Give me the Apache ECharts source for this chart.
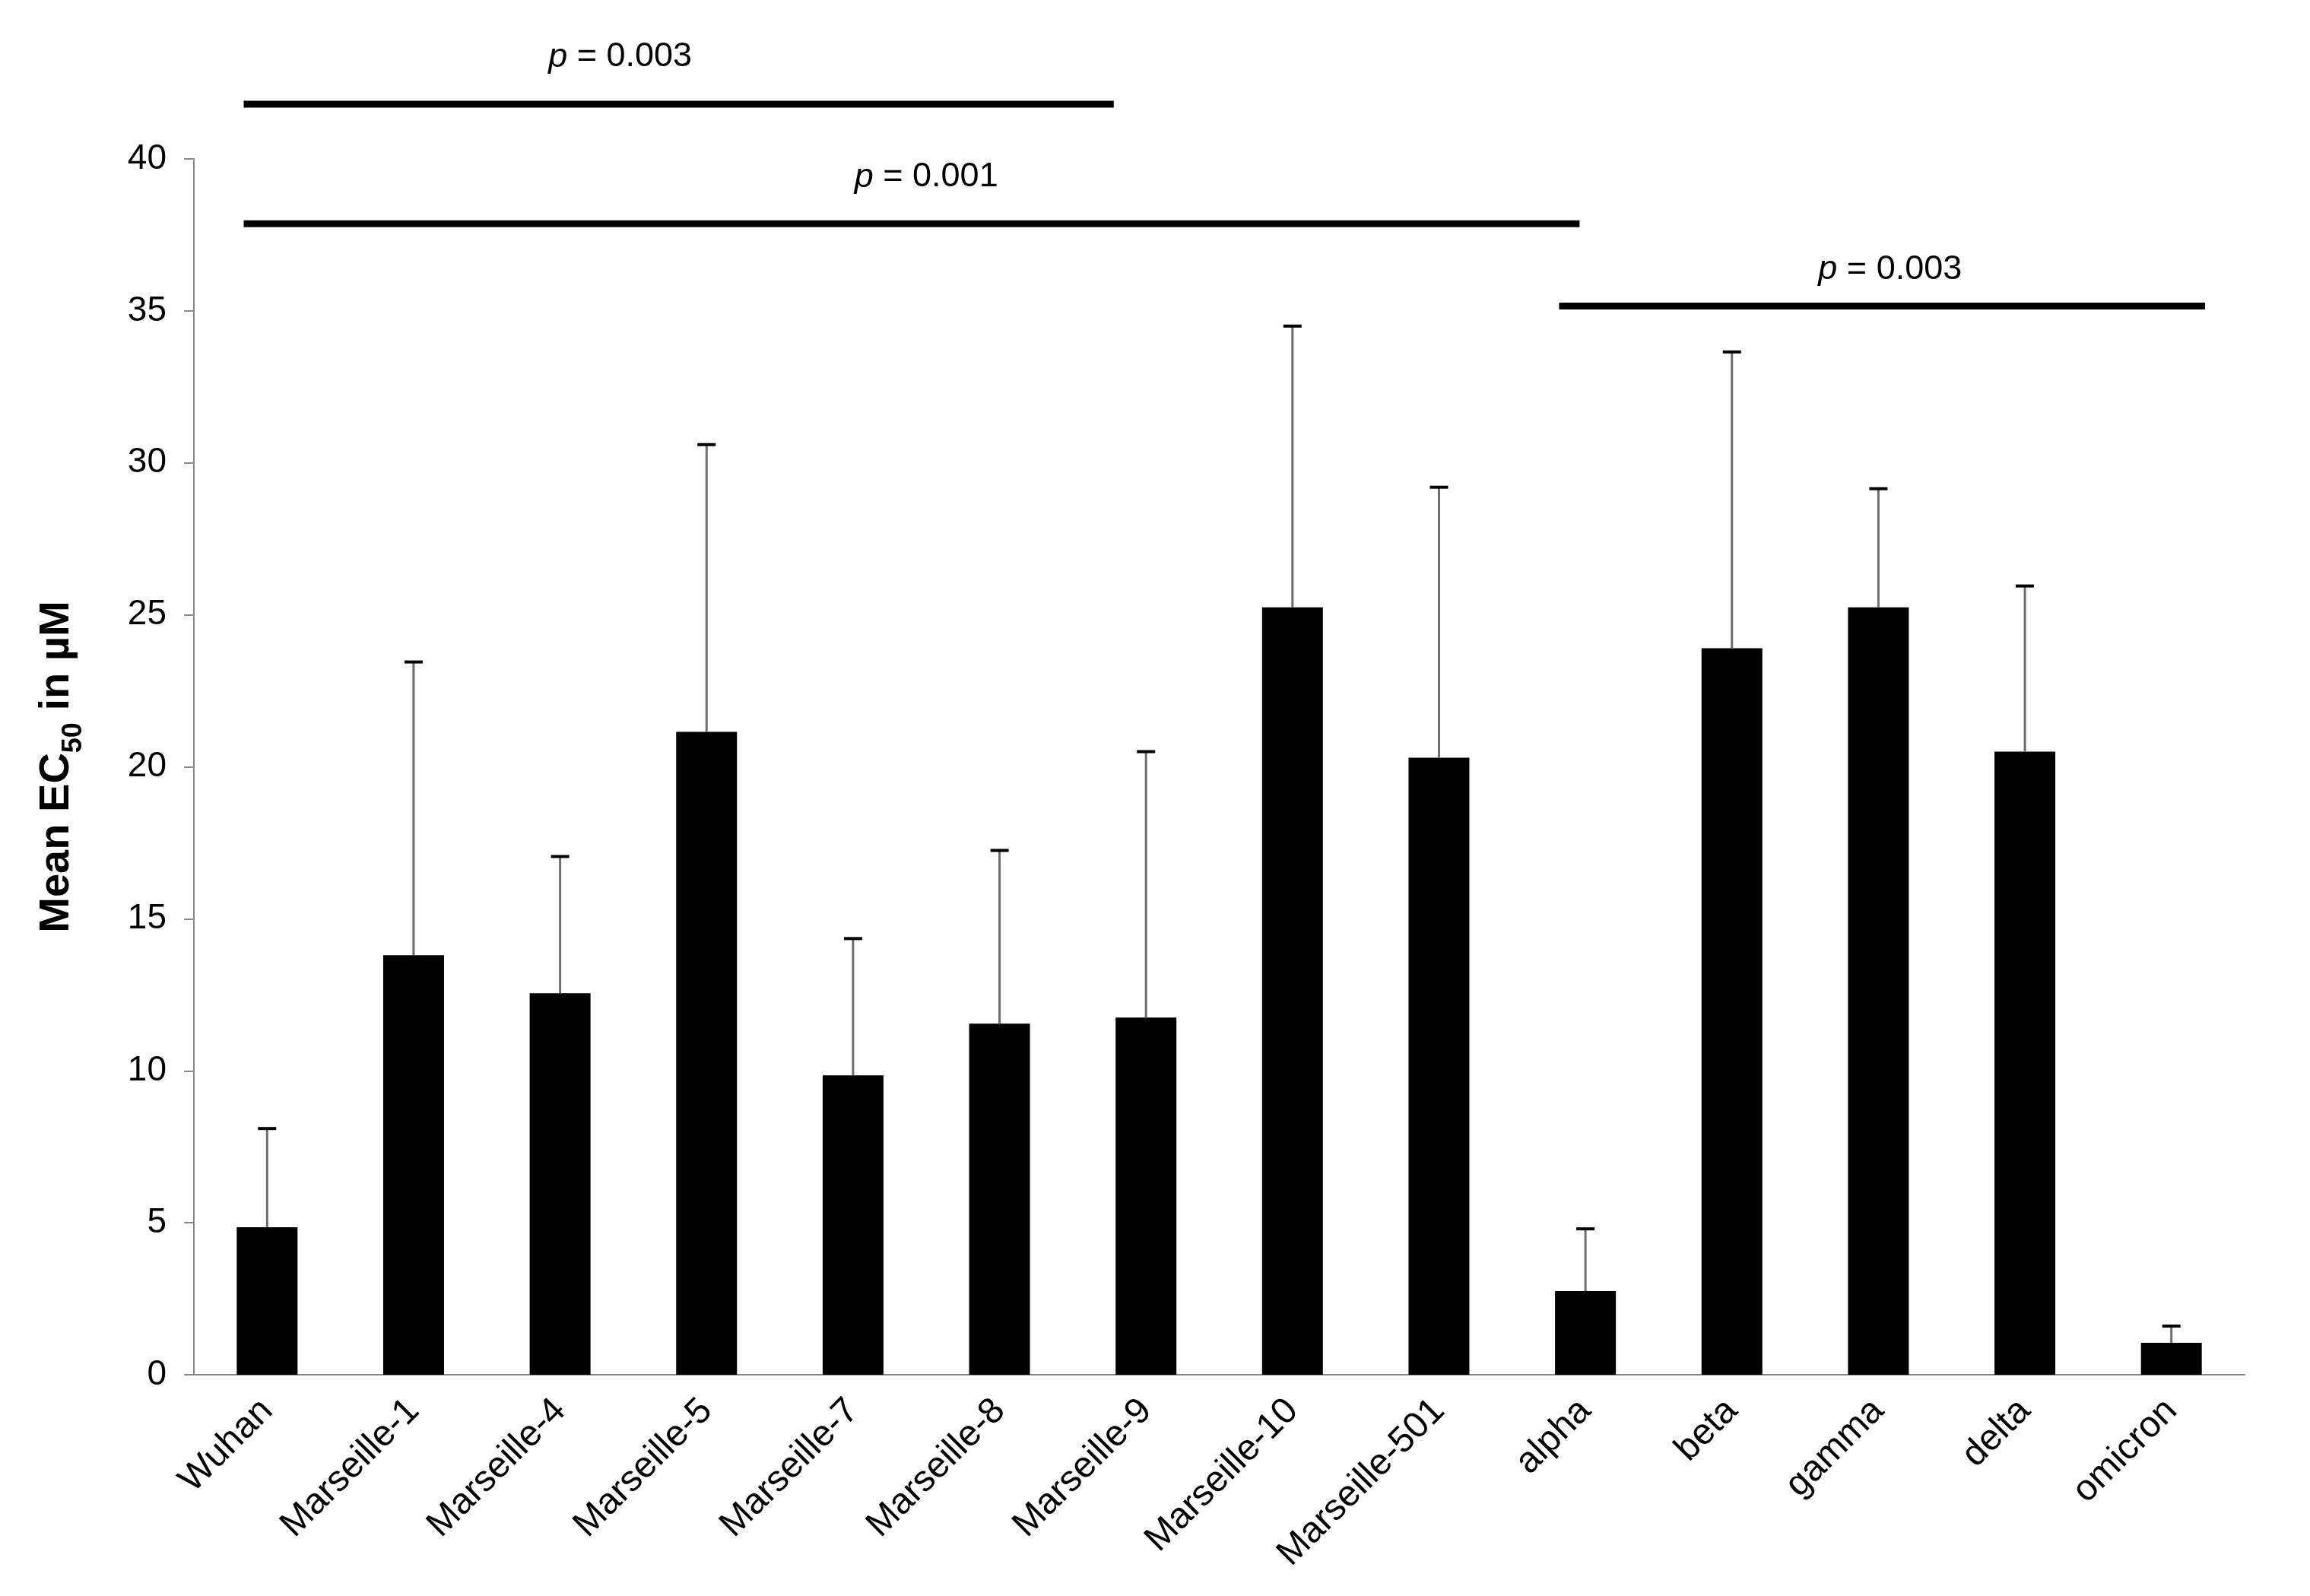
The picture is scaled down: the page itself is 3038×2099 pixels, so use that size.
<!DOCTYPE html>
<html>
<head>
<meta charset="utf-8">
<script src="https://cdn.jsdelivr.net/npm/echarts@6/dist/echarts.min.js"></script>
<style>
html, body { margin: 0; padding: 0; background: #fff; }
#main { width: 3038px; height: 2099px; }
</style>
</head>
<body>
<div id="main"></div>
<script>
var categories = ['Wuhan', 'Marseille-1', 'Marseille-4', 'Marseille-5', 'Marseille-7', 'Marseille-8',
    'Marseille-9', 'Marseille-10', 'Marseille-501', 'alpha', 'beta', 'gamma', 'delta', 'omicron'];
var meanEC50 = [4.85, 13.8, 12.55, 21.15, 9.85, 11.55, 11.75, 25.25, 20.3, 2.75, 23.9, 25.25, 20.5, 1.05];
var errorTop = [8.1, 23.45, 17.05, 30.6, 14.35, 17.25, 20.5, 34.5, 29.2, 4.8, 33.65, 29.15, 25.95, 1.6];

// significance brackets, x in category units, y in axis units
var bracketFrom = [-0.16, -0.16, 8.82];
var bracketTo = [5.78, 8.96, 13.23];
var bracketLevel = [41.8, 37.87, 35.16];
var pValues = ['0.003', '0.001', '0.003'];
var pLabelX = [2.41, 4.5, 11.08];
var pLabelLevel = [43.35, 39.4, 36.35];

var FONT = 'Liberation Sans, Arial, sans-serif';
var AXIS_GREY = '#868686';

function renderError(params, api) {
    var base = api.coord([api.value(0), api.value(1)]);
    var top = api.coord([api.value(0), api.value(2)]);
    var half = 12;
    return {
        type: 'group',
        children: [
            {type: 'line', shape: {x1: base[0], y1: base[1], x2: top[0], y2: top[1]},
             style: {stroke: '#6e6e6e', lineWidth: 3}},
            {type: 'line', shape: {x1: top[0] - half, y1: top[1], x2: top[0] + half, y2: top[1]},
             style: {stroke: '#000', lineWidth: 4}}
        ]
    };
}

function renderBracket(params, api) {
    var a = api.coord([api.value(0), api.value(2)]);
    var b = api.coord([api.value(1), api.value(2)]);
    var t = api.coord([api.value(3), api.value(4)]);
    return {
        type: 'group',
        children: [
            {type: 'rect', shape: {x: a[0], y: a[1] - 4.5, width: b[0] - a[0], height: 9},
             style: {fill: '#000'}},
            {type: 'text', x: t[0], y: t[1],
             style: {
                 text: '{i|p} = ' + pValues[params.dataIndex],
                 fontSize: 45, fontFamily: FONT, fill: '#000',
                 align: 'center', verticalAlign: 'middle',
                 rich: {i: {fontStyle: 'italic', fontSize: 45, fontFamily: FONT, fill: '#000'}}
             }}
        ]
    };
}

var chart = echarts.init(document.getElementById('main'));

chart.setOption({
    backgroundColor: '#fff',
    animation: false,
    grid: {left: 255, right: 86, top: 209, bottom: 291},
    xAxis: [{
        type: 'category',
        data: categories,
        axisLine: {lineStyle: {color: AXIS_GREY, width: 2}},
        axisTick: {length: 14, lineStyle: {color: AXIS_GREY, width: 2}},
        axisLabel: {rotate: 45, fontSize: 48, fontFamily: FONT, color: '#000', margin: 40, interval: 0}
    }, {
        type: 'value',
        min: -0.5,
        max: 13.5,
        show: false
    }],
    yAxis: {
        type: 'value',
        min: 0,
        max: 40,
        interval: 5,
        splitLine: {show: false},
        axisLine: {show: true, onZero: false, lineStyle: {color: AXIS_GREY, width: 2}},
        axisTick: {show: true, length: 13, lineStyle: {color: AXIS_GREY, width: 2}},
        axisLabel: {fontSize: 46, fontFamily: FONT, color: '#000', margin: 36},
        name: '{a|Mean EC}{s|50}{a| in µM}',
        nameLocation: 'middle',
        nameGap: 140,
        nameTextStyle: {
            rich: {
                a: {fontSize: 56, fontWeight: 'bold', fontFamily: FONT, color: '#000', lineHeight: 80, verticalAlign: 'middle'},
                s: {fontSize: 36, fontWeight: 'bold', fontFamily: FONT, color: '#000', lineHeight: 80, verticalAlign: 'bottom'}
            }
        }
    },
    series: [{
        type: 'bar',
        data: meanEC50,
        barWidth: 80,
        itemStyle: {color: '#000'}
    }, {
        type: 'custom',
        renderItem: renderError,
        data: categories.map(function (c, i) { return [i, meanEC50[i], errorTop[i]]; }),
        encode: {x: 0, y: [1, 2]},
        z: 3
    }, {
        type: 'custom',
        xAxisIndex: 1,
        clip: false,
        renderItem: renderBracket,
        data: bracketFrom.map(function (f, i) {
            return [f, bracketTo[i], bracketLevel[i], pLabelX[i], pLabelLevel[i]];
        }),
        encode: {x: [0, 1, 3], y: [2, 4]},
        z: 4
    }]
});
</script>
</body>
</html>
